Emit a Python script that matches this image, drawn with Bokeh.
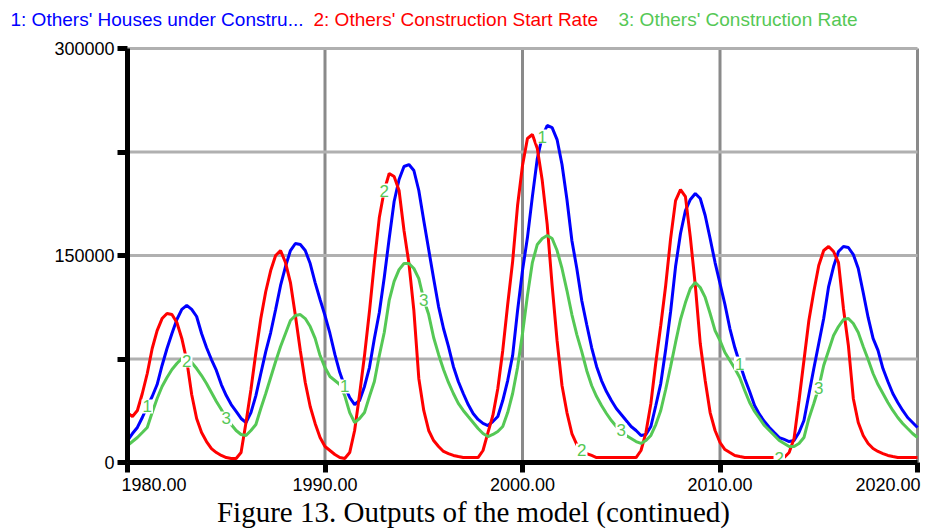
from bokeh.plotting import figure
from bokeh.models import Range1d, FixedTicker, NumeralTickFormatter, Label, ColumnDataSource
from bokeh.embed import file_html
from bokeh.resources import INLINE
from bokeh.core.properties import value

# ---- data (quarter-year steps 1980.00 ... 2020.00) ----
years = [1980 + 0.25 * k for k in range(161)]

houses_under_construction = [
    15900, 21000, 25400, 32600, 40600, 47800, 56500, 70300, 82600, 93500,
    103600, 110900, 113800, 110900, 105800, 93500, 83300, 74600, 66700, 56500,
    48500, 42000, 37000, 31900, 29000, 36200, 48500, 64500, 80400, 94200,
    110900, 128300, 142000, 153600, 158700, 158000, 153600, 144200, 130400, 118100,
    106500, 93500, 78300, 65200, 55100, 47100, 42000, 44900, 55100, 68800,
    89900, 108700, 134100, 162300, 189100, 205100, 214500, 215900, 211600, 197100,
    175400, 154300, 133300, 113000, 97100, 84100, 69600, 58700, 50000, 42000,
    35500, 31200, 28300, 26800, 29700, 33300, 44900, 59400, 77500, 110100,
    139100, 163000, 192700, 220300, 236200, 244200, 242700, 234000, 215900, 190600,
    160900, 140600, 117400, 100000, 83300, 69600, 59400, 51400, 44900, 39100,
    34800, 30400, 26100, 23200, 19600, 20300, 26100, 41300, 57200, 81900,
    109400, 142000, 165900, 182600, 190600, 194900, 191300, 179000, 162300, 144900,
    129700, 114500, 97100, 83300, 71700, 60900, 51400, 41300, 34800, 29700,
    25400, 21700, 18100, 16700, 15200, 15900, 21700, 30400, 49300, 68100,
    86200, 104300, 127500, 142000, 152900, 156500, 155800, 150700, 140600, 123200,
    105100, 89900, 81200, 68100, 58700, 50000, 43500, 37700, 32600, 29000,
    25400]

construction_start_rate = [
    36200, 33300, 37700, 50000, 64500, 82600, 95600, 104300, 108000, 107200,
    101400, 89900, 73900, 49300, 31900, 21700, 15200, 10100, 7200, 5100,
    3600, 2900, 2900, 7200, 29000, 52900, 79700, 104300, 123900, 139100,
    150000, 153600, 144900, 130400, 106500, 81200, 58000, 40600, 28300, 18100,
    11600, 8700, 5800, 3600, 2900, 7200, 23200, 49300, 77500, 109400,
    144900, 177500, 197100, 209400, 207200, 197100, 168100, 144200, 110100, 60900,
    37700, 23200, 15900, 11600, 8000, 6500, 5100, 4300, 3600, 3600,
    3600, 3600, 8700, 21700, 34100, 53600, 81200, 114500, 145600, 186200,
    215200, 234800, 237700, 227500, 204300, 172500, 128300, 88400, 55800, 36200,
    21000, 13000, 8700, 6500, 5100, 3600, 3600, 3600, 3600, 3600,
    3600, 3600, 3600, 3600, 8700, 21700, 42800, 72500, 99300, 128300,
    162300, 189800, 197800, 192700, 163000, 128300, 86200, 59400, 36200, 23200,
    14500, 9400, 7200, 5100, 4300, 3600, 3600, 3600, 3600, 3600,
    3600, 3600, 3600, 3600, 7200, 17400, 44900, 73900, 102900, 123900,
    142700, 153600, 156500, 152900, 144900, 111600, 84800, 46400, 29000, 19600,
    13800, 10100, 8000, 6500, 5100, 4300, 3600, 3600, 3600, 3600,
    3600]

construction_rate = [
    12300, 15200, 18100, 21700, 25400, 36200, 46400, 55100, 61600, 67400,
    71700, 75400, 76800, 72500, 68100, 63000, 57200, 50700, 44200, 38400,
    31900, 27500, 23200, 20300, 19600, 23200, 27500, 39100, 50000, 61600,
    73200, 84100, 93500, 102900, 106500, 107200, 104300, 98500, 89900, 77500,
    68800, 62300, 59400, 56500, 48500, 36200, 29000, 31900, 36200, 47800,
    58700, 77500, 94200, 117400, 131200, 139800, 144200, 144200, 140600, 133300,
    118100, 107200, 90600, 78300, 67400, 58000, 50000, 42800, 37700, 33300,
    29000, 24600, 21000, 18800, 20300, 22500, 26100, 36200, 50000, 68800,
    93500, 121000, 144900, 158000, 162300, 164500, 162300, 153600, 140600, 124600,
    107200, 92700, 80400, 66700, 55800, 47800, 41300, 35500, 30400, 26100,
    23200, 19600, 17400, 15200, 13800, 15900, 19600, 27500, 37700, 52900,
    69600, 87000, 103600, 115900, 126100, 130400, 126800, 119600, 108000, 95600,
    88400, 79700, 73900, 68100, 61600, 52200, 43500, 37000, 31900, 26800,
    23200, 19600, 15900, 13800, 11600, 11600, 13800, 18100, 31900, 42800,
    54300, 70300, 81200, 92000, 98500, 103600, 104300, 100700, 94200, 84100,
    74600, 64500, 56500, 50000, 43500, 37700, 32600, 28300, 24600, 21000,
    18100]

series_names = ["1: Others' Houses under Constru...",
                "2: Others' Construction Start Rate",
                "3: Others' Construction Rate"]

x_ticks = [1980, 1990, 2000, 2010, 2020]
y_ticks = [0, 75000, 150000, 225000, 300000]
y_labelled = [0, 150000, 300000]

# curve-number markers (year, curve)
marker_years = [1981, 1983, 1985, 1991, 1993, 1995, 2001, 2003, 2005, 2011, 2013, 2015]
marker_curves = ["1", "2", "3", "1", "2", "3", "1", "2", "3", "1", "2", "3"]

caption = "Figure 13. Outputs of the model (continued)"

# ---- layout (pixels) ----
W, H = 929, 529
FL, FR, FT, FB = 127, 917, 48, 462      # plot-area edges inside the canvas
x0, x1 = x_ticks[0], x_ticks[-1]
y0, y1 = y_ticks[0], y_ticks[-1]
xpp = (x1 - x0) / (FR - FL)
ypp = (y1 - y0) / (FB - FT)
xr = Range1d(x0 - FL * xpp, x1 + (W - FR) * xpp)
yr = Range1d(y0 - (H - FB) * ypp, y1 + FT * ypp)

BLUE = "#0000ff"
RED = "#ff0000"
GREEN = "#55c855"
SANS = "Liberation Sans"

p = figure(width=W, height=H, x_range=xr, y_range=yr,
           output_backend="svg", toolbar_location=None,
           min_border=0, min_border_left=0, min_border_right=0,
           min_border_top=0, min_border_bottom=0)
p.outline_line_color = None
p.background_fill_color = "white"
p.border_fill_color = "white"
p.xgrid.visible = False
p.ygrid.visible = False

# grid lines (bounded to the plot area)
vx = x_ticks[1:]
p.segment(x0=vx, y0=[y0] * len(vx), x1=vx, y1=[y1] * len(vx),
          line_color="#8a8a8a", line_width=3)
hy = y_ticks[1:]
p.segment(x0=[x0] * len(hy), y0=hy, x1=[x1] * len(hy), y1=hy,
          line_color="#b0b0b0", line_width=3)

# axes, pinned at the origin
p.xaxis.fixed_location = y0
p.yaxis.fixed_location = x0
p.xaxis.bounds = (x0, x1)
p.yaxis.bounds = (y0, y1)
p.xaxis.ticker = FixedTicker(ticks=x_ticks)
p.xaxis.formatter = NumeralTickFormatter(format="0.00")
p.xaxis.major_label_overrides = {x_ticks[0]: "", x_ticks[-1]: ""}
p.yaxis.ticker = FixedTicker(ticks=y_ticks)
p.yaxis.formatter = NumeralTickFormatter(format="0")
p.yaxis.major_label_overrides = {t: "" for t in y_ticks if t not in y_labelled}

for ax in (p.xaxis[0], p.yaxis[0]):
    ax.axis_line_width = 5
    ax.axis_line_color = "black"
    ax.major_tick_line_width = 5
    ax.major_tick_line_color = "black"
    ax.major_tick_out = 10
    ax.major_tick_in = 0
    ax.minor_tick_line_color = None
    ax.major_label_text_font = SANS
    ax.major_label_text_font_size = "18px"
    ax.major_label_text_color = "black"
p.yaxis.major_label_standoff = 3
p.xaxis.major_label_standoff = 5

# lines
p.line(years, houses_under_construction, line_color=BLUE, line_width=3)
p.line(years, construction_start_rate, line_color=RED, line_width=3)
p.line(years, construction_rate, line_color=GREEN, line_width=3)

# curve-number markers
curve_values = {"1": houses_under_construction,
                "2": construction_start_rate,
                "3": construction_rate}
marker_y = [curve_values[c][years.index(float(yr))] for yr, c in zip(marker_years, marker_curves)]
src = ColumnDataSource(dict(x=marker_years, y=marker_y, t=marker_curves))
p.text(x="x", y="y", text="t", source=src, text_color=GREEN,
       text_font=value(SANS), text_font_size="17px",
       text_align="center", text_baseline="middle",
       background_fill_color="white", padding=1)

# edge tick labels (shifted inward as in the reference)
p.add_layout(Label(x=x0, y=y0, text="1980.00", x_offset=-6, y_offset=-15,
                   text_align="left", text_baseline="top", text_font=SANS,
                   text_font_size="18px", text_color="black"))
p.add_layout(Label(x=x1, y=y0, text="2020.00", x_offset=3, y_offset=-15,
                   text_align="right", text_baseline="top", text_font=SANS,
                   text_font_size="18px", text_color="black"))

# legend row at top
legend_offsets = [-117, 186, 491]
for name, col, off in zip(series_names, [BLUE, RED, GREEN], legend_offsets):
    p.add_layout(Label(x=x0, y=y1, x_offset=off, y_offset=29, text=name,
                       text_align="left", text_baseline="alphabetic",
                       text_font=SANS, text_font_size="19px", text_color=col))

# caption
p.add_layout(Label(x=x0, y=y0, x_offset=346, y_offset=-49, text=caption,
                   text_align="center", text_baseline="alphabetic",
                   text_font="Liberation Serif", text_font_size="29px",
                   text_color="black"))

open("out.html", "w").write(file_html(p, INLINE))
